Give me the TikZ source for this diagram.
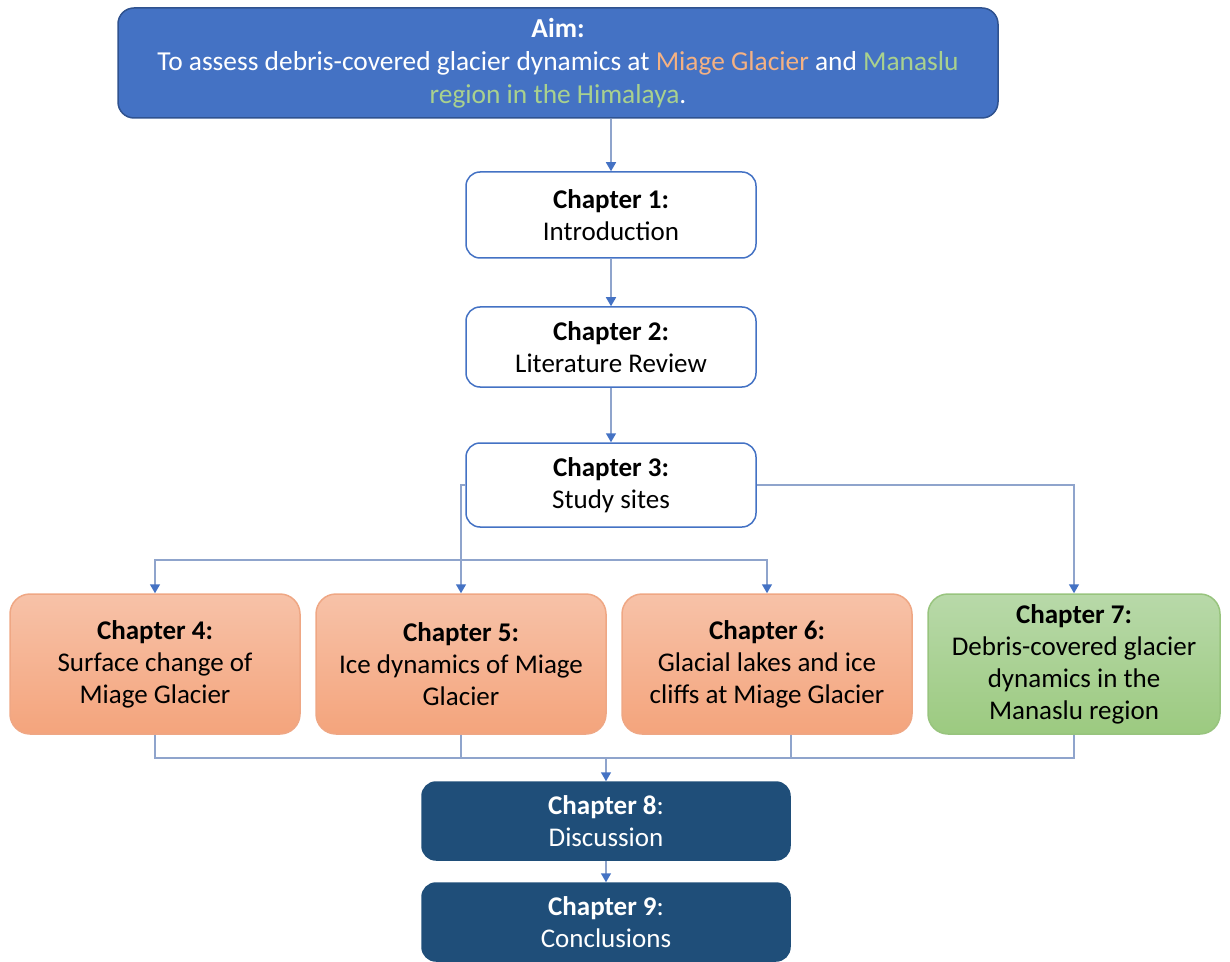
\documentclass[tikz,border=0pt]{standalone}
\usepackage{fontspec}
\setmainfont{Carlito}
\usetikzlibrary{positioning, arrows.meta}
\definecolor{aimblue}{HTML}{4472C4}
\definecolor{aimedge}{HTML}{2F528F}
\definecolor{miage}{HTML}{F4B183}
\definecolor{manaslu}{HTML}{A9D18E}
\definecolor{linkgrey}{HTML}{8FA4CC}
\definecolor{orangetop}{HTML}{F7C2A8}
\definecolor{orangebot}{HTML}{F4A47C}
\definecolor{orangeedge}{HTML}{EFA784}
\definecolor{greentop}{HTML}{B8D9A9}
\definecolor{greenbot}{HTML}{9CCA80}
\definecolor{greenedge}{HTML}{98C47E}
\definecolor{navy}{HTML}{1F4E79}

\begin{document}
\begin{tikzpicture}[x=0.5pt,y=0.5pt,line width=0.75pt,font=\fontsize{13.5}{16}\selectfont]
        \tikzstyle{point}=[coordinate]
        \tikzstyle{aimbox}=[draw=aimedge, fill=aimblue, text=white, rounded corners=8pt, minimum width=440pt, minimum height=55pt, align=center, font=\fontsize{13.7}{16.5}\selectfont]
        \tikzstyle{chap}=[draw=aimblue, fill=white, rounded corners=7pt, minimum width=145pt, align=center]
        \tikzstyle{miagebox}=[draw=orangeedge, top color=orangetop, bottom color=orangebot, rounded corners=10pt, minimum width=145pt, minimum height=70pt, align=center]
        \tikzstyle{manasbox}=[miagebox, draw=greenedge, top color=greentop, bottom color=greenbot, minimum width=146pt]
        \tikzstyle{endbox}=[draw=navy, fill=navy, text=white, rounded corners=7pt, minimum width=184pt, minimum height=39pt, align=center]
        \tikzstyle{link}=[draw=linkgrey, -{Triangle[length=4.5pt,width=5pt,color=aimblue]}]
        \tikzstyle{plain}=[draw=linkgrey]
        \useasboundingbox (0,0) rectangle (1230,-962);
        \node[aimbox]  (aim) at (558,-63)   {\textbf{Aim:}\\To assess debris-covered glacier dynamics at \textcolor{miage}{Miage Glacier} and \textcolor{manaslu}{Manaslu}\\\textcolor{manaslu}{region in the Himalaya}.};
        \node[chap, minimum height=43pt] (c1) at (611,-215) {\textbf{Chapter 1:}\\Introduction};
        \node[chap, minimum height=40pt] (c2) at (611,-347) {\textbf{Chapter 2:}\\Literature Review};
        \node[chap, minimum height=42pt] (c3) at (611,-485) {\textbf{Chapter 3:}\\Study sites};
        \node[miagebox] (c4) at (155,-664)  {\textbf{Chapter 4:}\\Surface change of\\Miage Glacier};
        \node[miagebox] (c5) at (461,-664)  {\textbf{Chapter 5:}\\Ice dynamics of Miage\\Glacier};
        \node[miagebox] (c6) at (767,-664)  {\textbf{Chapter 6:}\\Glacial lakes and ice\\cliffs at Miage Glacier};
        \node[manasbox] (c7) at (1074,-664) {\textbf{Chapter 7:}\\Debris-covered glacier\\dynamics in the\\Manaslu region};
        \node[endbox]  (c8) at (606,-821)   {\textbf{Chapter 8}:\\Discussion};
        \node[endbox]  (c9) at (606,-922)   {\textbf{Chapter 9}:\\Conclusions};
        \node[point]   (split) at (461,-560) {};
        \node[point]   (merge) at (606,-758) {};
        \draw[link]  (aim.south -| c1.north) -- (c1.north);
        \draw[link]  (c1) -- (c2);
        \draw[link]  (c2) -- (c3);
        \draw[link]  (c3.west) -| (c5.north);
        \draw[link]  (split) -| (c4.north);
        \draw[link]  (split) -| (c6.north);
        \draw[link]  (c3.east) -| (c7.north);
        \draw[plain] (c4.south) |- (merge)   (c5.south) |- (merge);
        \draw[plain] ([xshift=12pt]c6.south) |- (merge)   (c7.south) |- (merge);
        \draw[link]  (merge) -- (c8.north);
        \draw[link]  (c8) -- (c9);
    \end{tikzpicture}
\end{document}
